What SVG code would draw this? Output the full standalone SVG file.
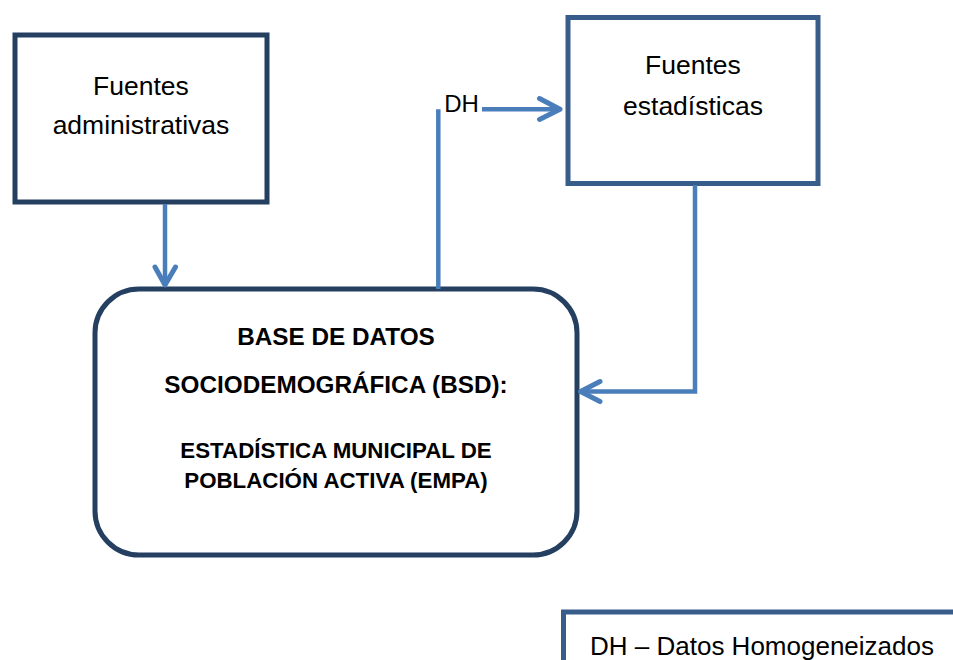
<svg xmlns="http://www.w3.org/2000/svg" width="953" height="660" viewBox="0 0 953 660">
<defs>
<style>
.box{fill:#fff;stroke-width:5}
.dark{stroke:#243F60}
.mid{stroke:#385D8A}
.t{font-family:"Liberation Sans",Arial,sans-serif;fill:#000;text-anchor:middle}
.n{font-size:26.5px}
.b{font-weight:bold}
.con{fill:none;stroke:#4A7EBB;stroke-width:4.5}
.head{fill:none;stroke:#4A7EBB;stroke-width:5;stroke-linecap:round;stroke-linejoin:round}
</style>
</defs>
<rect width="953" height="660" fill="#fff"/>
<g id="fuentes-administrativas">
<rect class="box dark" x="15" y="35" width="252" height="167"/>
<text class="t n" x="141" y="95">Fuentes</text>
<text class="t n" x="141" y="134">administrativas</text>
</g>
<g id="fuentes-estadisticas">
<rect class="box mid" x="568" y="17.5" width="250" height="166"/>
<text class="t n" x="693" y="74">Fuentes</text>
<text class="t n" x="693" y="115">estadísticas</text>
</g>
<g id="bsd">
<rect class="box dark" x="95" y="289" width="482" height="266" rx="44" ry="44"/>
<text class="t b" x="336" y="345" font-size="24.3">BASE DE DATOS</text>
<text class="t b" x="336" y="393" font-size="24.3">SOCIODEMOGRÁFICA (BSD):</text>
<text class="t b" x="336" y="458" font-size="22.3">ESTADÍSTICA MUNICIPAL DE</text>
<text class="t b" x="336" y="488" font-size="22.3">POBLACIÓN ACTIVA (EMPA)</text>
</g>
<g id="leyenda">
<rect class="box mid" x="563.5" y="612" width="420" height="100"/>
<text class="t" x="590" y="655" font-size="26" style="text-anchor:start">DH – Datos Homogeneizados</text>
</g>
<g id="connectors">
<line class="con" x1="165" y1="204" x2="165" y2="285"/>
<polyline class="head" points="155,267 165,285 175.5,267"/>
<polyline class="con" points="438.3,289 438.3,109.3"/>
<text class="t" x="461.5" y="111.7" font-size="24">DH</text>
<line class="con" x1="482" y1="109.3" x2="559" y2="109.3"/>
<polyline class="head" points="539.5,98.5 560,109.3 539.5,119.5"/>
<polyline class="con" points="695,185 695,391.5 582,391.5"/>
<polyline class="head" points="600,381.5 580.5,391.5 600,401.5"/>
</g>
</svg>
